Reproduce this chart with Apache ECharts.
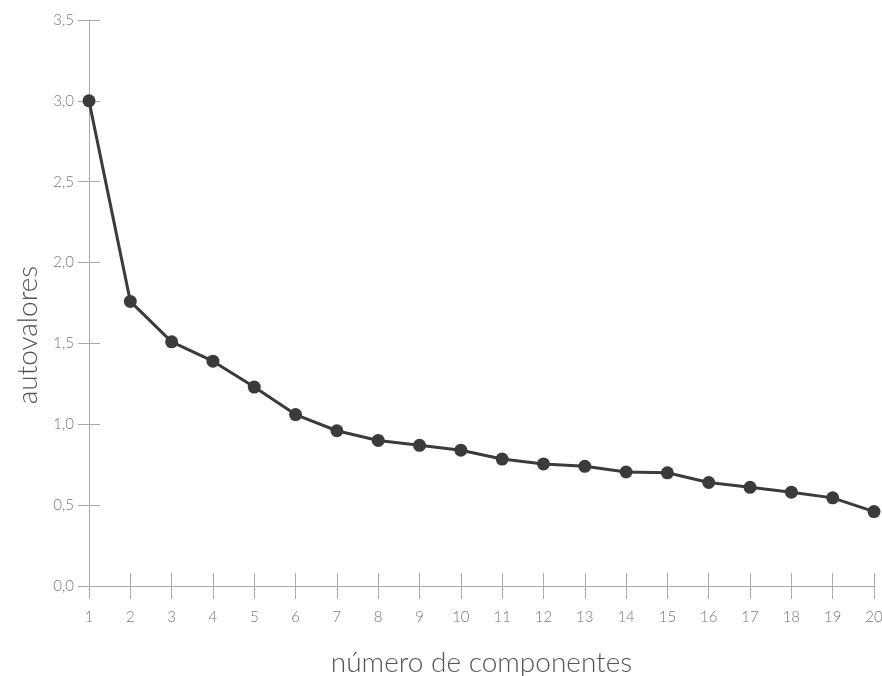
<!DOCTYPE html>
<html><head><meta charset="utf-8">
<script src="https://cdn.jsdelivr.net/npm/echarts@6/dist/echarts.min.js"></script>
<style>html,body{margin:0;padding:0;background:#fff}#c{width:882px;height:676px}</style>
</head><body><div id="c"></div>
<script>
const components = [1,2,3,4,5,6,7,8,9,10,11,12,13,14,15,16,17,18,19,20];
const eigenvalues = [3.0,1.76,1.51,1.39,1.23,1.06,0.96,0.90,0.87,0.84,0.785,0.755,0.74,0.705,0.70,0.64,0.61,0.58,0.545,0.46];
const xLabel = 'número de componentes';
const yLabel = 'autovalores';
const FONT = 'Lato';
const axisColor = '#aaaaaa';
const fmt = v => v.toFixed(1).replace('.', ',');

const chart = echarts.init(document.getElementById('c'));
const xBase = {type:'value', min:1, max:20, interval:1, gridIndex:0, position:'bottom', offset:0,
  axisLine:{show:true, onZero:false, lineStyle:{color:axisColor,width:1}},
  splitLine:{show:false}};
const yBase = {type:'value', min:0, max:3.5, interval:0.5, gridIndex:0, position:'left', offset:0,
  axisLine:{show:true, onZero:false, lineStyle:{color:axisColor,width:1}},
  splitLine:{show:false}};
chart.setOption({
  animation:false,
  grid:{left:89, right:8, top:20, bottom:90, containLabel:false, outerBoundsMode:'none'},
  graphic:[{
    type:'text', x:28, y:335, rotation:Math.PI/2,
    style:{text:yLabel, fontFamily:FONT, fontWeight:300, fontSize:28, fill:'#555',
      align:'center', verticalAlign:'middle'}
  }],
  xAxis:[
    Object.assign({}, xBase, {
      name:xLabel, nameLocation:'middle', nameGap:63,
      nameTextStyle:{fontFamily:FONT, fontWeight:300, fontSize:28, color:'#555'},
      axisTick:{show:true, inside:false, length:13, lineStyle:{color:axisColor}},
      axisLabel:{fontFamily:FONT, fontWeight:300, fontSize:15, color:'#777', margin:24}
    }),
    Object.assign({}, xBase, {
      axisTick:{show:true, inside:true, length:13, lineStyle:{color:axisColor}},
      axisLabel:{show:false}
    })
  ],
  yAxis:[
    Object.assign({}, yBase, {
      axisTick:{show:true, inside:false, length:11, lineStyle:{color:axisColor}},
      axisLabel:{fontFamily:FONT, fontWeight:300, fontSize:15, color:'#777', margin:15, formatter:fmt}
    }),
    Object.assign({}, yBase, {
      axisTick:{show:true, inside:true, length:11, lineStyle:{color:axisColor}},
      axisLabel:{show:false}
    })
  ],
  series:[{
    type:'line', xAxisIndex:0, yAxisIndex:0,
    data: components.map((c,i)=>[c, eigenvalues[i]]),
    symbol:'circle', symbolSize:13,
    lineStyle:{color:'#3b3b3b', width:3},
    itemStyle:{color:'#3b3b3b'}
  }]
});
</script></body></html>
